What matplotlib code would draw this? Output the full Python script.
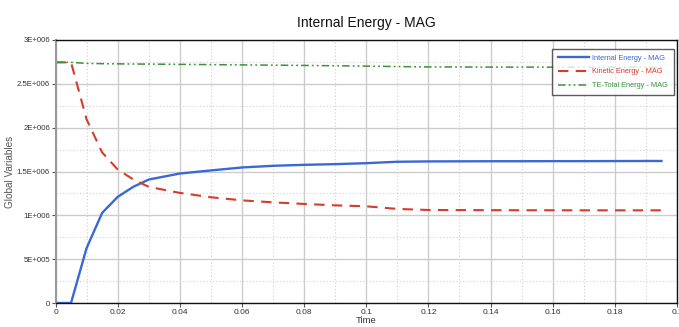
import matplotlib
matplotlib.use("Agg")
import matplotlib.pyplot as plt
from matplotlib.ticker import MultipleLocator, FuncFormatter

time = [0, 0.005, 0.01, 0.015, 0.02, 0.025, 0.03, 0.04, 0.05, 0.06, 0.07, 0.08,
        0.09, 0.1, 0.11, 0.12, 0.13, 0.14, 0.15, 0.16, 0.17, 0.18, 0.19, 0.195]
internal = [0, 0, 0.626e6, 1.027e6, 1.21e6, 1.325e6, 1.408e6, 1.477e6, 1.512e6, 1.546e6,
            1.565e6, 1.576e6, 1.584e6, 1.595e6, 1.611e6, 1.615e6, 1.616e6, 1.617e6,
            1.617e6, 1.618e6, 1.618e6, 1.619e6, 1.62e6, 1.62e6]
kinetic = [2.745e6, 2.745e6, 2.095e6, 1.718e6, 1.523e6, 1.41e6, 1.325e6, 1.256e6, 1.206e6,
           1.171e6, 1.148e6, 1.13e6, 1.114e6, 1.103e6, 1.073e6, 1.061e6, 1.06e6, 1.059e6,
           1.058e6, 1.058e6, 1.057e6, 1.057e6, 1.057e6, 1.057e6]
total = [2.745e6, 2.745e6, 2.733e6, 2.73e6, 2.728e6, 2.726e6, 2.725e6, 2.722e6, 2.719e6,
         2.716e6, 2.713e6, 2.71e6, 2.706e6, 2.702e6, 2.697e6, 2.693e6, 2.692e6, 2.691e6,
         2.691e6, 2.69e6, 2.69e6, 2.69e6, 2.69e6, 2.69e6]
labels = ["Internal Energy - MAG", "Kinetic Energy - MAG", "TE-Total Energy - MAG"]
colors = ["#3a68d6", "#d83a2c", "#3b923b"]

plt.rcParams['font.family'] = ['Liberation Sans', 'DejaVu Sans']

fig = plt.figure(figsize=(6.79, 3.27), dpi=100)
ax = fig.add_axes([55.5/679, 1-303/327, (677-55.5)/679, (303-40)/327])

ax.plot(time, internal, color=colors[0], lw=1.7, ls='-', label=labels[0])
ax.plot(time, kinetic, color=colors[1], lw=1.5, ls=(0, (5, 3.5)), label=labels[1])
ax.plot(time, total, color=colors[2], lw=1.1, ls=(0, (5, 2, 1.2, 2, 1.2, 2)), label=labels[2])

ax.set_xlim(0, 0.2)
ax.set_ylim(0, 3e6)
ax.xaxis.set_major_locator(MultipleLocator(0.02))
ax.xaxis.set_minor_locator(MultipleLocator(0.01))
ax.yaxis.set_major_locator(MultipleLocator(5e5))
ax.yaxis.set_minor_locator(MultipleLocator(2.5e5))

def xfmt(v, p):
    if abs(v) < 1e-12:
        return "0"
    s = ("%.2f" % v).rstrip('0').rstrip('.')
    return s
def yfmt(v, p):
    if abs(v) < 1e-9:
        return "0"
    m = v
    e = 0
    while m >= 10:
        m /= 10
        e += 1
    ms = ("%.1f" % m).rstrip('0').rstrip('.')
    return "%sE+%03d" % (ms, e)
ax.xaxis.set_major_formatter(FuncFormatter(xfmt))
ax.yaxis.set_major_formatter(FuncFormatter(yfmt))

ax.grid(which='major', color='#cccccc', lw=1.0, ls='-')
ax.grid(which='minor', color='#d0d0d0', lw=0.8, ls=(0, (1, 2)))
ax.set_axisbelow(True)

ax.tick_params(which='major', length=3, width=0.8, color='#555555', labelsize=5.6,
               labelcolor='#333333', pad=1)
ax.tick_params(axis='x', which='major', labelsize=6)
ax.tick_params(which='minor', length=0)
for side in ['top', 'bottom', 'right']:
    ax.spines[side].set_color('#111111')
    ax.spines[side].set_linewidth(1.0)
ax.spines['left'].set_color('#999999')
ax.spines['left'].set_linewidth(1.5)

ax.set_xlabel("Time", fontsize=6.8, color='#333333')
ax.xaxis.set_label_coords(0.5, -0.048)
ax.set_ylabel("Global Variables", fontsize=7.2, color='#555555')
ax.yaxis.set_label_coords(-0.074, 0.5)
ax.yaxis.label.set_va('center')
ax.set_title("Internal Energy - MAG", fontsize=10, color='#111111', pad=9)

leg = ax.legend(loc='upper right', bbox_to_anchor=(0.9985, 0.976), fontsize=5.3,
                frameon=True, fancybox=False, handlelength=4.2, handletextpad=0.4,
                borderpad=0.8, labelspacing=0.9, borderaxespad=0.3)
leg.get_frame().set_edgecolor('#333333')
leg.get_frame().set_linewidth(1.0)
for t, c in zip(leg.get_texts(), colors):
    t.set_color(c)

fig.savefig("out.png", dpi=100)
